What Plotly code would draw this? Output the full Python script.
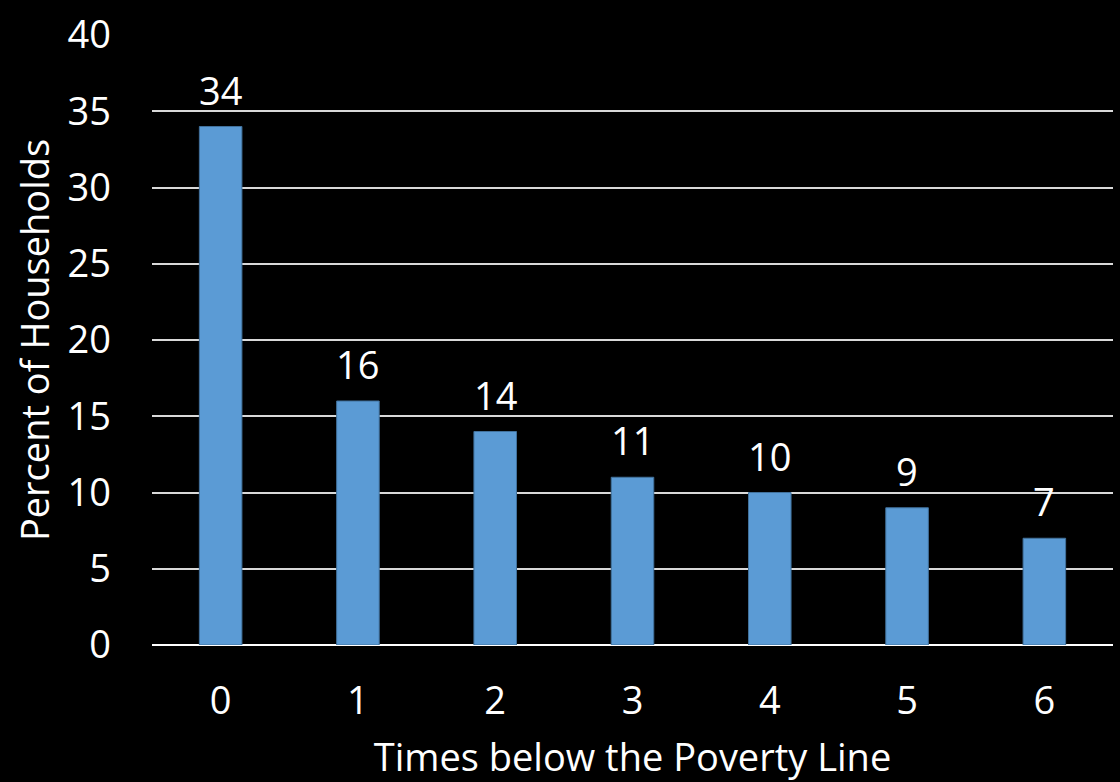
import plotly.graph_objects as go

# Share of households by number of times below the poverty line
times_below = ["0", "1", "2", "3", "4", "5", "6"]
percent_households = [34, 16, 14, 11, 10, 9, 7]
y_ticks = [0, 5, 10, 15, 20, 25, 30, 35, 40]

FONT = "Open Sans"
SIZE = 38

fig = go.Figure(
    go.Bar(
        x=times_below,
        y=percent_households,
        width=0.31,
        marker=dict(color="#5B9BD5", line=dict(color="#41719C", width=1)),
        hoverinfo="x+y",
    )
)

# value labels floated a little above each bar
for cat, val in zip(times_below, percent_households):
    fig.add_annotation(
        x=cat, y=val, text=str(val), showarrow=False,
        yanchor="bottom", yshift=9,
        font=dict(family=FONT, size=SIZE, color="white"),
    )

fig.update_layout(
    width=1120,
    height=782,
    paper_bgcolor="black",
    plot_bgcolor="black",
    margin=dict(l=152, r=7, t=29, b=136),
    showlegend=False,
    font=dict(family=FONT, color="white"),
)

fig.update_xaxes(
    type="category",
    showgrid=False,
    showline=False,
    ticks="",
    tickfont=dict(family=FONT, size=SIZE, color="white"),
    ticklabelstandoff=30,
    title=dict(text="Times below the Poverty Line",
               font=dict(family=FONT, size=SIZE, color="white"), standoff=23),
)

fig.update_yaxes(
    range=[0, 40],
    tickvals=y_ticks,
    showgrid=True,
    gridcolor="#D9D9D9",
    gridwidth=1.5,
    zeroline=True,
    zerolinecolor="white",
    zerolinewidth=2,
    showline=False,
    ticks="",
    tickfont=dict(family=FONT, size=SIZE, color="white"),
    ticklabelstandoff=40,
    title=dict(text="Percent of Households",
               font=dict(family=FONT, size=SIZE, color="white"), standoff=6),
)

fig.write_html("out.html")
